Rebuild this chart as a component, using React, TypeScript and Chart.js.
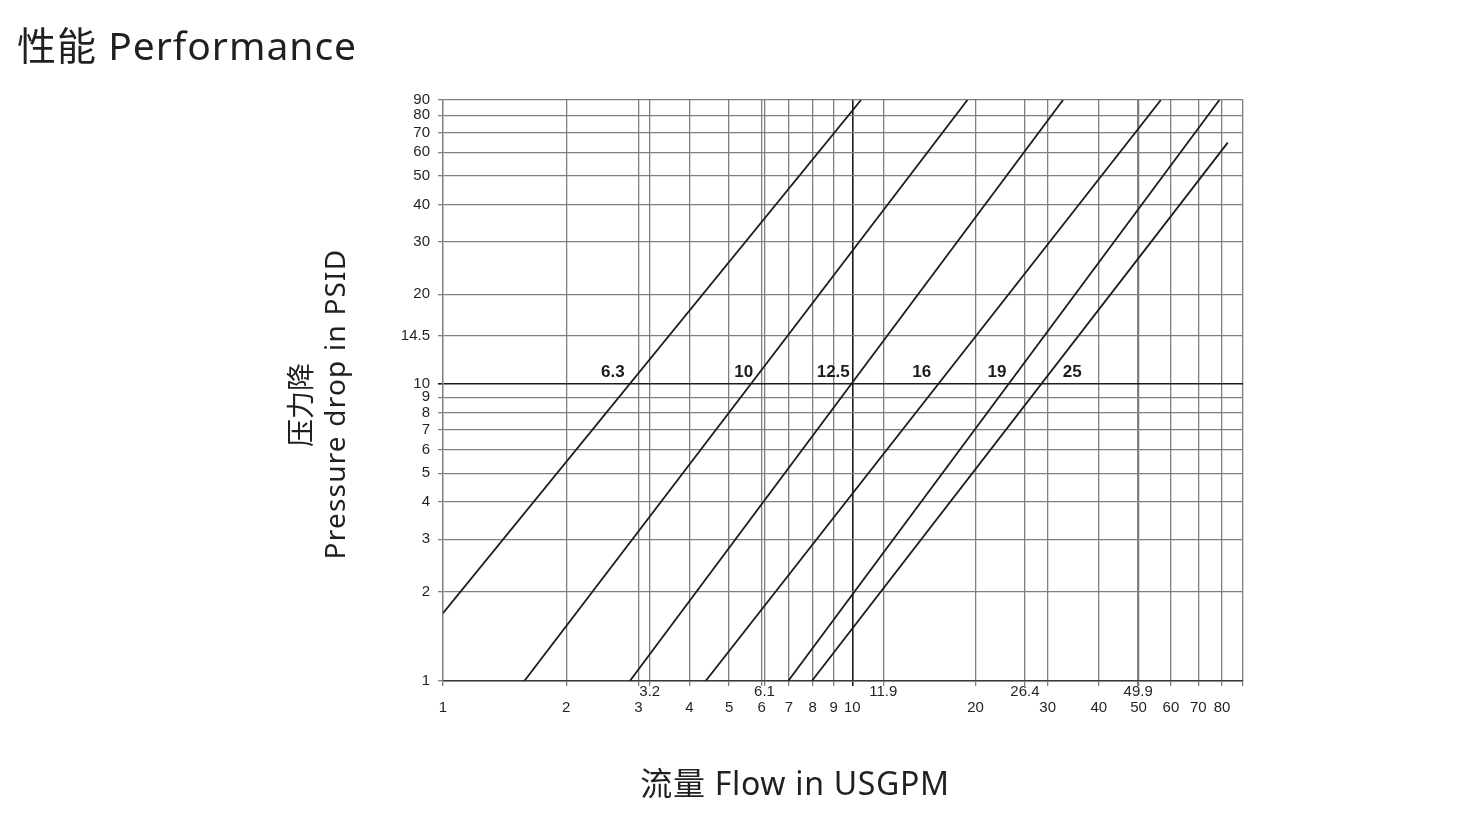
import { useEffect, useRef } from "react";
import { Chart, registerables } from "chart.js";

Chart.register(...registerables);

// Axis ranges (log-log)
const flowMin = 1;
const flowMax = 90;
const psidMin = 1;
const psidMax = 90;

// Grid / tick values
const flowMainTicks = [1, 2, 3, 4, 5, 6, 7, 8, 9, 10, 20, 30, 40, 50, 60, 70, 80];
const flowMarkedTicks = [3.2, 6.1, 11.9, 26.4, 49.9];
const psidTicks = [1, 2, 3, 4, 5, 6, 7, 8, 9, 10, 14.5, 20, 30, 40, 50, 60, 70, 80, 90];

// Pressure-drop curves, one straight segment each on log-log axes
const curveNames = ["6.3", "10", "12.5", "16", "19", "25"];
const curveFlowStart = [1, 1.58, 2.86, 4.38, 6.97, 7.96];
const curvePsidStart = [1.69, 1, 1, 1, 1, 1];
const curveFlowEnd = [10.5, 19.1, 32.7, 56.7, 78.8, 82.6];
const curvePsidEnd = [90, 90, 90, 90, 90, 64.7];

// Where each curve's name is written
const curveLabelFlow = [2.6, 5.43, 8.98, 14.77, 22.55, 34.43];
const curveLabelPsid = [11, 11, 11, 11, 11, 11];

const INK = "#231f20";
const GRID = "#7f7f7f";
const DARK = "#1c1c1c";
const TICK_FONT = '"Liberation Sans", Arial, Helvetica, sans-serif';
const TITLE_FONT = '"Noto Sans", "Noto Sans CJK SC", sans-serif';

const curveLabelsPlugin = {
  id: "curveLabels",
  afterDatasetsDraw(chart: any) {
    const { ctx, scales } = chart;
    ctx.save();
    ctx.font = `bold 17px ${TICK_FONT}`;
    ctx.fillStyle = DARK;
    ctx.textAlign = "center";
    ctx.textBaseline = "middle";
    curveNames.forEach((name, i) => {
      const x = scales.x.getPixelForValue(curveLabelFlow[i]);
      const y = scales.y.getPixelForValue(curveLabelPsid[i]);
      ctx.fillText(name, x, y + 1);
    });
    ctx.restore();
  },
};

const isTen = (c: any) => c && c.tick && Math.abs(c.tick.value - 10) < 1e-9;

export default function App() {
  const canvasRef = useRef<HTMLCanvasElement | null>(null);

  useEffect(() => {
    const canvas = canvasRef.current;
    if (!canvas) return;

    const flowTicks = [...flowMainTicks, ...flowMarkedTicks, flowMax].sort((a, b) => a - b);

    const chart = new Chart(canvas, {
      type: "line",
      data: {
        datasets: curveNames.map((name, i) => ({
          label: name,
          data: [
            { x: curveFlowStart[i], y: curvePsidStart[i] },
            { x: curveFlowEnd[i], y: curvePsidEnd[i] },
          ],
          borderColor: DARK,
          borderWidth: 1.8,
          pointRadius: 0,
          fill: false,
          tension: 0,
        })),
      },
      options: {
        responsive: false,
        animation: false,
        events: [],
        layout: { padding: { left: 383, right: 235, top: 100, bottom: 92 } },
        plugins: {
          legend: { display: false },
          tooltip: { enabled: false },
          title: { display: false },
        },
        scales: {
          x: {
            type: "logarithmic",
            min: flowMin,
            max: flowMax,
            afterBuildTicks: (axis: any) => {
              axis.ticks = flowTicks.map((v) => ({ value: v }));
            },
            afterFit: (axis: any) => {
              axis.height = 45;
            },
            grid: {
              color: (c: any) => (isTen(c) ? DARK : GRID),
              lineWidth: (c: any) => (isTen(c) ? 1.6 : 1.3),
              tickLength: 5,
            },
            border: { color: "#3a3a3a", width: 1.4 },
            ticks: {
              autoSkip: false,
              maxRotation: 0,
              minRotation: 0,
              padding: -2,
              color: INK,
              font: { family: TICK_FONT, size: 15, lineHeight: 1.04 },
              callback: (value: any) => {
                const v = Number(value);
                if (flowMarkedTicks.includes(v)) return [String(v)];
                if (flowMainTicks.includes(v)) return ["", String(v)];
                return "";
              },
            },
          },
          y: {
            type: "logarithmic",
            min: psidMin,
            max: psidMax,
            afterBuildTicks: (axis: any) => {
              axis.ticks = psidTicks.map((v) => ({ value: v }));
            },
            afterFit: (axis: any) => {
              axis.width = 60;
            },
            grid: {
              color: (c: any) => (isTen(c) ? DARK : GRID),
              lineWidth: (c: any) => (isTen(c) ? 1.6 : 1.3),
              tickLength: 5,
            },
            border: { color: GRID, width: 1.3 },
            ticks: {
              autoSkip: false,
              padding: 8,
              color: INK,
              font: { family: TICK_FONT, size: 15 },
              callback: (value: any) => String(Number(value)),
            },
          },
        },
      },
      plugins: [curveLabelsPlugin],
    });

    return () => chart.destroy();
  }, []);

  const textBase: any = {
    position: "absolute",
    color: INK,
    fontFamily: TITLE_FONT,
    lineHeight: 1,
    whiteSpace: "nowrap",
  };

  return (
    <div
      style={{
        position: "fixed",
        left: 0,
        top: 0,
        width: 1478,
        height: 818,
        background: "#ffffff",
        overflow: "hidden",
      }}
    >
      <canvas
        ref={canvasRef}
        width={1478}
        height={818}
        style={{ position: "absolute", left: 0, top: 0, width: 1478, height: 818, display: "block" }}
      />
      <div
        style={{
          ...textBase,
          left: 17,
          top: 44,
          fontSize: 39,
          letterSpacing: 1,
          transform: "translateY(-50%)",
        }}
      >
        性能 Performance
      </div>
      <div
        style={{
          ...textBase,
          left: 300,
          top: 405,
          fontSize: 28,
          transform: "translate(-50%, -50%) rotate(-90deg)",
        }}
      >
        压力降
      </div>
      <div
        style={{
          ...textBase,
          left: 334,
          top: 404,
          fontSize: 28,
          letterSpacing: 1.2,
          transform: "translate(-50%, -50%) rotate(-90deg)",
        }}
      >
        Pressure drop in PSID
      </div>
      <div
        style={{
          ...textBase,
          left: 795,
          top: 783,
          fontSize: 32,
          letterSpacing: 0.7,
          transform: "translate(-50%, -50%)",
        }}
      >
        流量 Flow in USGPM
      </div>
    </div>
  );
}
